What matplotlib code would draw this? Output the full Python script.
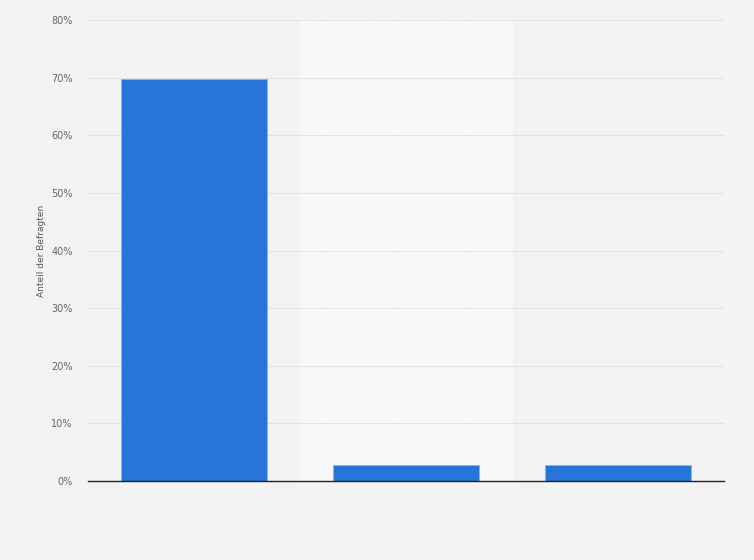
import matplotlib.pyplot as plt
import numpy as np

categories = ['A', 'B', 'C']
values = [69.8, 2.8, 2.8]
yticks = [0, 10, 20, 30, 40, 50, 60, 70, 80]

fig = plt.figure(figsize=(7.54, 5.6), dpi=100, facecolor='#f3f3f3')
ax = fig.add_axes([0.1167, 0.141, 0.8435, 0.823])
ax.set_facecolor('#f3f3f3')

x = np.arange(len(categories))
ax.axvspan(0.5, 1.5, color='#f8f8f8', zorder=0)
ax.bar(x, values, width=0.69, color='#2775db', edgecolor='#8fb4ee', linewidth=0.6, zorder=3)

ax.set_xlim(-0.5, 2.5)
ax.set_ylim(0, 80)
ax.set_yticks(yticks)
ax.set_yticklabels(['{}%'.format(t) for t in yticks], color='#666666', fontsize=7)
ax.set_xticks([])
ax.grid(axis='y', color='#d0d0d0', linestyle=(0, (1, 1)), linewidth=0.7, zorder=1)
ax.tick_params(axis='y', length=0, pad=11)
for s in ['top', 'right', 'left']:
    ax.spines[s].set_visible(False)
ax.spines['bottom'].set_color('#222222')
ax.spines['bottom'].set_linewidth(1.0)
ax.spines['bottom'].set_zorder(4)
ax.set_ylabel('Anteil der Befragten', color='#555555', fontsize=6.5, labelpad=4)

plt.savefig('out.png', dpi=100, facecolor=fig.get_facecolor())
